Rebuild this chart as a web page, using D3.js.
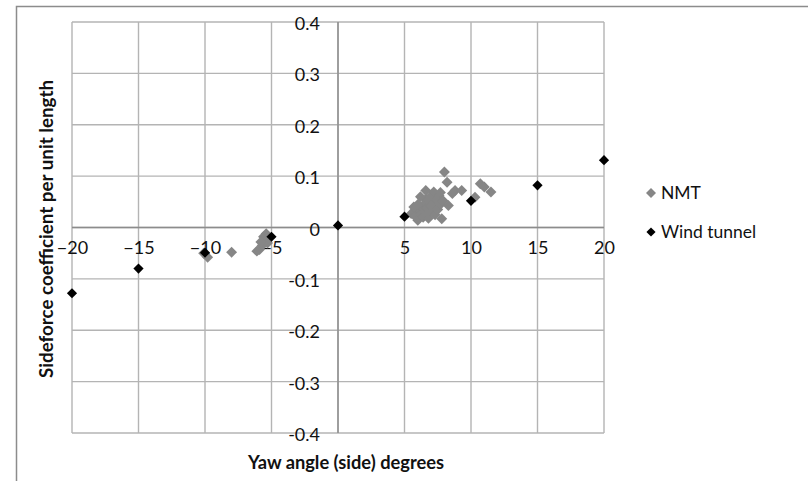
<!DOCTYPE html>
<html>
<head>
<meta charset="utf-8">
<script src="https://cdn.jsdelivr.net/npm/d3@7/dist/d3.min.js"></script>
<style>
  html, body { margin: 0; padding: 0; background: #fff; }
  svg text { font-family: Lato, "Open Sans", sans-serif; }
</style>
</head>
<body>
<svg id="chart" width="808" height="481"></svg>
<script>
// ---- data ----
const xTicks = [-20, -15, -10, -5, 0, 5, 10, 15, 20];
const yTicks = [-0.4, -0.3, -0.2, -0.1, 0, 0.1, 0.2, 0.3, 0.4];
const seriesNames = ["NMT", "Wind tunnel"];

const windX = [-20, -15, -10, -5, 0, 5, 10, 15, 20];
const windY = [-0.128, -0.080, -0.049, -0.018, 0.004, 0.021, 0.052, 0.082, 0.131];

const nmtX = [-9.8, -10.1, -8.0, -6.1, -5.9, -5.7, -5.5, -5.6, -5.4, -5.3, -5.8,
  5.5, 5.8, 5.9, 6.0, 6.1, 6.2, 6.3, 6.4, 6.5, 6.5, 6.6, 6.6, 6.7, 6.8, 6.8, 6.9, 7.0, 7.0,
  7.1, 7.2, 7.2, 7.3, 7.4, 7.4, 7.5, 7.6, 7.7, 7.7, 7.8, 7.9, 8.0, 8.2, 8.3, 8.6, 8.8, 9.3,
  10.3, 10.7, 11.0, 11.5, 6.2, 5.7, 6.0];
const nmtY = [-0.058, -0.050, -0.048, -0.046, -0.043, -0.035, -0.025, -0.018, -0.012, -0.030, -0.028,
  0.027, 0.022, 0.030, 0.014, 0.034, 0.025, 0.040, 0.020, 0.031, 0.046, 0.055, 0.072, 0.038, 0.018, 0.028, 0.050, 0.042, 0.062,
  0.032, 0.069, 0.048, 0.025, 0.055, 0.040, 0.035, 0.062, 0.068, 0.045, 0.017, 0.052, 0.108, 0.088, 0.043, 0.066, 0.072, 0.072,
  0.059, 0.085, 0.079, 0.069, 0.060, 0.040, 0.045];

// ---- layout ----
const svg = d3.select("#chart");
const pLeft = 72, pRight = 604, pTop = 22, pBottom = 433;

const x = d3.scaleLinear().domain([-20, 20]).range([pLeft, pRight]);
const y = d3.scaleLinear().domain([-0.4, 0.4]).range([pBottom, pTop]);

// outer chart frame
svg.append("rect")
  .attr("x", 16.5).attr("y", 6.5).attr("width", 800).attr("height", 480)
  .attr("fill", "none").attr("stroke", "#8c8c8c").attr("stroke-width", 1.5);

// gridlines
const grid = svg.append("g").attr("stroke", "#b4b4b4").attr("stroke-width", 1.4);
xTicks.forEach(v => {
  grid.append("line").attr("x1", x(v)).attr("x2", x(v)).attr("y1", pTop).attr("y2", pBottom);
});
yTicks.forEach(v => {
  grid.append("line").attr("x1", pLeft).attr("x2", pRight).attr("y1", y(v)).attr("y2", y(v));
});

// zero axes
svg.append("line").attr("x1", x(0)).attr("x2", x(0)).attr("y1", pTop).attr("y2", pBottom)
  .attr("stroke", "#8c8c8c").attr("stroke-width", 1.4);
svg.append("line").attr("x1", pLeft).attr("x2", pRight).attr("y1", y(0)).attr("y2", y(0))
  .attr("stroke", "#8c8c8c").attr("stroke-width", 1.4);

// axes labels via d3 axes
const yAxis = d3.axisLeft(y).tickValues(yTicks).tickSize(0).tickPadding(18)
  .tickFormat(d => String(+d.toFixed(1)));
const gy = svg.append("g").attr("transform", `translate(${x(0)},0)`).call(yAxis);
gy.select(".domain").remove();
gy.selectAll("text").attr("font-size", 18).attr("fill", "#111")
  .attr("font-family", "Lato, sans-serif").attr("dy", "0.42em");

const xAxis = d3.axisBottom(x).tickValues(xTicks.filter(v => v !== 0)).tickSize(0).tickPadding(14);
const gx = svg.append("g").attr("transform", `translate(0,${y(0)})`).call(xAxis);
gx.select(".domain").remove();
gx.selectAll("text").attr("font-size", 18).attr("fill", "#111")
  .attr("font-family", "Lato, sans-serif");

// axis titles
svg.append("text").attr("x", 346).attr("y", 463).attr("dy", "0.35em")
  .attr("text-anchor", "middle").attr("font-weight", "bold").attr("font-size", 18.3)
  .attr("fill", "#111").text("Yaw angle (side) degrees");
svg.append("text").attr("transform", "translate(46,229) rotate(-90)").attr("dy", "0.35em")
  .attr("text-anchor", "middle").attr("font-weight", "bold").attr("font-size", 18.8)
  .attr("fill", "#111").text("Sideforce coefficient per unit length");

// marks
const nmt = nmtX.map((v, i) => ({x: v, y: nmtY[i]}));
const wind = windX.map((v, i) => ({x: v, y: windY[i]}));

svg.append("g").selectAll("path").data(nmt).join("path")
  .attr("d", d3.symbol().type(d3.symbolSquare).size(60)())
  .attr("transform", d => `translate(${x(d.x)},${y(d.y)}) rotate(45)`)
  .attr("fill", "#868686");

svg.append("g").selectAll("path").data(wind).join("path")
  .attr("d", d3.symbol().type(d3.symbolSquare).size(52)())
  .attr("transform", d => `translate(${x(d.x)},${y(d.y)}) rotate(45)`)
  .attr("fill", "#000");

// legend
const legendItems = [
  {name: seriesNames[0], color: "#868686", size: 50, ly: 193},
  {name: seriesNames[1], color: "#000", size: 42, ly: 232}
];
const lg = svg.append("g");
legendItems.forEach(it => {
  lg.append("path").attr("d", d3.symbol().type(d3.symbolSquare).size(it.size)())
    .attr("transform", `translate(651,${it.ly}) rotate(45)`).attr("fill", it.color);
  lg.append("text").attr("x", 661).attr("y", it.ly).attr("dy", "0.36em")
    .attr("font-size", 17.5).attr("fill", "#111").text(it.name);
});
</script>
</body>
</html>
